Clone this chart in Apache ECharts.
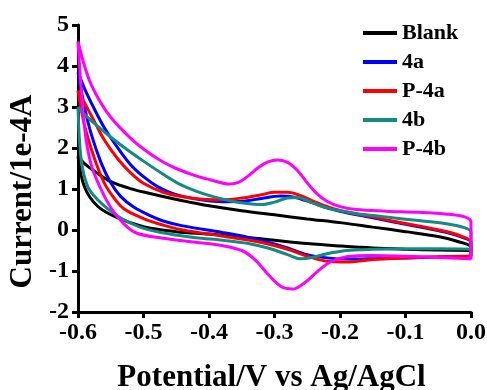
<!DOCTYPE html>
<html>
<head>
<meta charset="utf-8">
<script src="https://cdn.jsdelivr.net/npm/echarts@6/dist/echarts.min.js"></script>
<style>
  html, body { margin: 0; padding: 0; background: #fff; }
  #chart { width: 487px; height: 390px; }
</style>
</head>
<body>
<div id="chart"></div>
<script>
// potential (V) / current (1e-4 A) pairs, each loop: upper sweep to 0.0 V, then back to -0.6 V
const blank = [
  [-0.6, 1.8], [-0.59, 1.62], [-0.57, 1.38], [-0.55, 1.18], [-0.52, 1.01], [-0.49, 0.89],
  [-0.46, 0.78], [-0.43, 0.68], [-0.4, 0.59], [-0.35, 0.47], [-0.3, 0.37], [-0.25, 0.27],
  [-0.2, 0.18], [-0.15, 0.07], [-0.1, -0.04], [-0.05, -0.16], [-0.02, -0.28], [0, -0.42],
  [0, -0.5], [-0.05, -0.49], [-0.1, -0.47], [-0.15, -0.44], [-0.2, -0.39], [-0.25, -0.33],
  [-0.3, -0.25], [-0.35, -0.17], [-0.4, -0.1], [-0.45, -0.04], [-0.5, 0.08], [-0.54, 0.3],
  [-0.57, 0.58], [-0.59, 1.05], [-0.6, 1.8]
]
const c4a = [
  [-0.6, 3.85], [-0.59, 3.45], [-0.575, 2.95], [-0.56, 2.5], [-0.54, 2.02], [-0.52, 1.6],
  [-0.5, 1.3], [-0.48, 1.07], [-0.46, 0.92], [-0.44, 0.82], [-0.41, 0.73], [-0.38, 0.69],
  [-0.35, 0.7], [-0.32, 0.77], [-0.29, 0.83], [-0.27, 0.8], [-0.245, 0.68], [-0.22, 0.54],
  [-0.19, 0.42], [-0.16, 0.33], [-0.12, 0.2], [-0.08, 0.08], [-0.04, -0.05], [-0.015, -0.17],
  [0, -0.3],
  [0, -0.63], [-0.05, -0.66], [-0.1, -0.68], [-0.15, -0.7], [-0.19, -0.71], [-0.22, -0.68],
  [-0.25, -0.6], [-0.28, -0.44], [-0.31, -0.3], [-0.34, -0.18], [-0.38, -0.06], [-0.44, 0.1],
  [-0.47, 0.22], [-0.49, 0.35], [-0.515, 0.56], [-0.535, 0.82], [-0.55, 1.15], [-0.565, 1.65],
  [-0.58, 2.35], [-0.59, 3.0], [-0.6, 3.85]
]
const p4a = [
  [-0.6, 3.4], [-0.59, 3.1], [-0.575, 2.65], [-0.56, 2.2], [-0.54, 1.75], [-0.52, 1.4],
  [-0.5, 1.14], [-0.47, 0.92], [-0.44, 0.81], [-0.41, 0.75], [-0.38, 0.74], [-0.35, 0.78],
  [-0.32, 0.86], [-0.3, 0.92], [-0.28, 0.92], [-0.26, 0.84], [-0.24, 0.7], [-0.21, 0.52],
  [-0.18, 0.41], [-0.15, 0.32], [-0.12, 0.22], [-0.08, 0.1], [-0.04, -0.03], [-0.015, -0.15],
  [0, -0.3],
  [0, -0.63], [-0.05, -0.65], [-0.1, -0.68], [-0.15, -0.72], [-0.19, -0.78], [-0.22, -0.76],
  [-0.25, -0.64], [-0.28, -0.47], [-0.31, -0.34], [-0.35, -0.22], [-0.4, -0.1], [-0.44, 0.0],
  [-0.47, 0.12], [-0.5, 0.28], [-0.53, 0.52], [-0.545, 0.78], [-0.56, 1.15], [-0.575, 1.75],
  [-0.59, 2.55], [-0.6, 3.4]
]
const c4b = [
  [-0.6, 3.0], [-0.59, 2.82], [-0.575, 2.6], [-0.555, 2.33], [-0.53, 2.02], [-0.5, 1.68],
  [-0.47, 1.36], [-0.445, 1.12], [-0.42, 0.95], [-0.395, 0.82], [-0.37, 0.72], [-0.345, 0.65],
  [-0.32, 0.62], [-0.3, 0.68], [-0.28, 0.78], [-0.265, 0.79], [-0.245, 0.68], [-0.22, 0.54],
  [-0.19, 0.44], [-0.16, 0.37], [-0.12, 0.3], [-0.08, 0.23], [-0.04, 0.16], [-0.015, 0.08],
  [0, -0.05],
  [0, -0.47], [-0.05, -0.46], [-0.1, -0.46], [-0.15, -0.47], [-0.19, -0.5], [-0.22, -0.58],
  [-0.245, -0.68], [-0.26, -0.7], [-0.28, -0.6], [-0.31, -0.44], [-0.34, -0.33], [-0.38, -0.25],
  [-0.42, -0.19], [-0.46, -0.1], [-0.5, 0.04], [-0.53, 0.25], [-0.55, 0.46], [-0.57, 0.74],
  [-0.585, 1.05], [-0.595, 1.7], [-0.6, 3.0]
]
const p4b = [
  [-0.6, 4.6], [-0.59, 4.0], [-0.58, 3.55], [-0.565, 3.1], [-0.55, 2.75], [-0.53, 2.4],
  [-0.51, 2.1], [-0.49, 1.86], [-0.47, 1.66], [-0.45, 1.5], [-0.42, 1.32], [-0.39, 1.19],
  [-0.37, 1.12], [-0.355, 1.16], [-0.34, 1.32], [-0.325, 1.52], [-0.31, 1.66], [-0.295, 1.71],
  [-0.28, 1.65], [-0.265, 1.45], [-0.25, 1.15], [-0.235, 0.88], [-0.22, 0.7], [-0.2, 0.57],
  [-0.175, 0.5], [-0.13, 0.46], [-0.08, 0.43], [-0.04, 0.39], [-0.01, 0.32], [0, 0.2],
  [0, -0.7], [-0.05, -0.67], [-0.1, -0.64], [-0.15, -0.62], [-0.19, -0.65], [-0.215, -0.78],
  [-0.235, -1.02], [-0.255, -1.3], [-0.272, -1.44], [-0.29, -1.38], [-0.31, -1.08], [-0.33, -0.72],
  [-0.35, -0.5], [-0.38, -0.38], [-0.42, -0.3], [-0.47, -0.2], [-0.51, -0.08], [-0.53, 0.15],
  [-0.55, 0.55], [-0.565, 1.0], [-0.58, 1.6], [-0.59, 2.5], [-0.6, 4.6]
]
const names = ['Blank', '4a', 'P-4a', '4b', 'P-4b']
const colors = ['#000000', '#0000ff', '#ff0000', '#138a82', '#ff00ff']
const loops = [blank, c4a, p4a, c4b, p4b]

const font = "'Liberation Serif', 'Times New Roman', serif"
const chart = echarts.init(document.getElementById('chart'))

chart.setOption({
  animation: false,
  grid: { left: 78, right: 16, top: 25, bottom: 78, containLabel: false, outerBoundsMode: 'none' },
  legend: {
    orient: 'vertical',
    left: 363,
    top: 22,
    padding: 0,
    icon: 'rect',
    itemWidth: 34,
    itemHeight: 4,
    itemGap: 7,
    textStyle: { fontFamily: font, fontWeight: 'bold', fontSize: 22, lineHeight: 22, color: '#000' },
    data: names
  },
  xAxis: {
    type: 'value',
    min: -0.6,
    max: 0,
    interval: 0.1,
    name: 'Potential/V vs Ag/AgCl',
    nameLocation: 'middle',
    nameGap: 50,
    nameTextStyle: {
      fontFamily: font, fontWeight: 'bold', fontSize: 31, color: '#000',
      padding: [0, 6, 0, 0]
    },
    axisLine: { onZero: false, lineStyle: { color: '#000', width: 3 } },
    axisTick: { length: 6, lineStyle: { color: '#000', width: 3 } },
    axisLabel: {
      margin: 9,
      fontFamily: font, fontWeight: 'bold', fontSize: 24, color: '#000',
      formatter: v => v.toFixed(1)
    },
    splitLine: { show: false }
  },
  yAxis: {
    type: 'value',
    min: -2,
    max: 5,
    interval: 1,
    name: 'Current/1e-4A',
    nameLocation: 'middle',
    nameGap: 38,
    nameTextStyle: {
      fontFamily: font, fontWeight: 'bold', fontSize: 31, color: '#000',
      padding: [0, 46, 0, 0]
    },
    axisLine: { show: true, onZero: false, lineStyle: { color: '#000', width: 3 } },
    axisTick: { show: true, length: 6, lineStyle: { color: '#000', width: 3 } },
    axisLabel: { margin: 9, fontFamily: font, fontWeight: 'bold', fontSize: 24, color: '#000' },
    splitLine: { show: false }
  },
  series: loops.map((d, i) => ({
    name: names[i],
    type: 'line',
    data: d,
    smooth: 0.35,
    showSymbol: false,
    color: colors[i],
    lineStyle: { width: 3, color: colors[i] }
  }))
})
</script>
</body>
</html>
